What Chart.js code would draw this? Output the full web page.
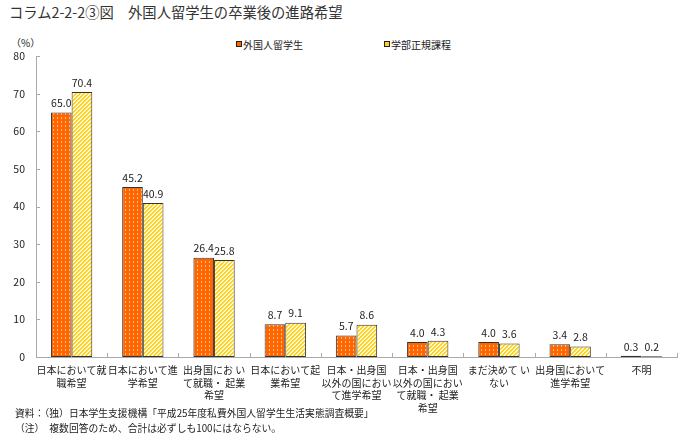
<!DOCTYPE html>
<html lang="ja">
<head>
<meta charset="UTF-8">
<meta name="viewport" content="width=device-width, initial-scale=1.0">
<title>外国人留学生の卒業後の進路希望</title>
<script src="https://cdn.jsdelivr.net/npm/chart.js"></script>
<style>
    body {
        margin: 0;
        background: #fff;
        font-family: "Noto Sans CJK JP", sans-serif;
        color: #222;
    }
    #wrap {
        position: relative;
        width: 689px;
        height: 447px;
        overflow: hidden;
    }
    #title {
        position: absolute;
        left: 9px;
        top: 2px;
        font-size: 14.3px;
        line-height: 20px;
        color: #333;
        white-space: nowrap;
    }
    #unit {
        position: absolute;
        left: 11px;
        top: 36px;
        font-size: 10px;
        line-height: 14px;
    }
    .leg {
        position: absolute;
        top: 38px;
        font-size: 10px;
        line-height: 14px;
        white-space: nowrap;
    }
    .leg i {
        display: inline-block;
        width: 4px;
        height: 4px;
        border: 1px solid #222;
        margin-right: 1px;
        vertical-align: 2px;
    }
    #chartBox {
        position: absolute;
        left: 0;
        top: 28px;
        width: 689px;
        height: 392px;
    }
    #notes {
        position: absolute;
        left: 15px;
        top: 406px;
        font-size: 9.8px;
        line-height: 15px;
        white-space: nowrap;
    }
</style>
</head>
<body>

<div id="wrap">
    <div id="title">コラム2-2-2③図　外国人留学生の卒業後の進路希望</div>
    <div id="unit">（%）</div>
    <div class="leg" style="left:236px"><i style="background:#ff6600"></i>外国人留学生</div>
    <div class="leg" style="left:384px"><i style="background:#ffd21f"></i>学部正規課程</div>
    <div id="chartBox"><canvas id="careerChart"></canvas></div>
    <div id="notes">
        資料：（独）日本学生支援機構「平成25年度私費外国人留学生生活実態調査概要」<br>
        （注）　複数回答のため、合計は必ずしも100にはならない。
    </div>
</div>

<script>
    // categories (wrapped like the original)
    const categories = [
        ['日本において就', '職希望'],
        ['日本において進', '学希望'],
        ['出身国にお い', 'て就職・ 起業', '希望'],
        ['日本において起', '業希望'],
        ['日本・出身国', '以外の国におい', 'て進学希望'],
        ['日本・出身国', '以外の国におい', 'て就職・ 起業', '希望'],
        ['まだ決めて い', 'ない'],
        ['出身国において', '進学希望'],
        ['不明']
    ];
    const seriesNames = ['外国人留学生', '学部正規課程'];
    const foreignStudents = [65.0, 45.2, 26.4, 8.7, 5.7, 4.0, 4.0, 3.4, 0.3];
    const undergraduates = [70.4, 40.9, 25.8, 9.1, 8.6, 4.3, 3.6, 2.8, 0.2];
    const yMin = 0, yMax = 80, yStep = 10;

    // fill patterns: orange with dots, yellow with diagonal stripes
    function dotPattern() {
        const c = document.createElement('canvas');
        c.width = 4; c.height = 4;
        const g = c.getContext('2d');
        g.fillStyle = '#ff6600';
        g.fillRect(0, 0, 4, 4);
        g.fillStyle = '#ffb98a';
        g.fillRect(1, 1, 1, 2);
        return g.createPattern(c, 'repeat');
    }
    function stripePattern() {
        const c = document.createElement('canvas');
        c.width = 4; c.height = 4;
        const g = c.getContext('2d');
        g.fillStyle = '#ffd21f';
        g.fillRect(0, 0, 4, 4);
        for (let x = 0; x < 4; x++) {
            for (let y = 0; y < 4; y++) {
                if ((x + y) % 4 === 3) { g.fillStyle = '#ffffff'; g.fillRect(x, y, 1, 1); }
                if ((x + y) % 4 === 2) { g.fillStyle = '#fff0a0'; g.fillRect(x, y, 1, 1); }
            }
        }
        return g.createPattern(c, 'repeat');
    }

    // small tick marks pointing into the plot
    const inwardTicks = {
        id: 'inwardTicks',
        afterDraw(chart) {
            const { ctx, chartArea: a, scales: { x, y } } = chart;
            ctx.save();
            ctx.strokeStyle = '#aaaaaa';
            ctx.lineWidth = 1;
            ctx.beginPath();
            y.ticks.forEach((t, i) => {
                const py = Math.round(y.getPixelForTick(i)) + 0.5;
                ctx.moveTo(a.left, py);
                ctx.lineTo(a.left + 4, py);
            });
            const half = (x.getPixelForValue(1) - x.getPixelForValue(0)) / 2;
            for (let i = 0; i < categories.length; i++) {
                const px = Math.round(x.getPixelForValue(i) + half) + 0.5;
                ctx.moveTo(px, a.bottom);
                ctx.lineTo(px, a.bottom - 4);
            }
            ctx.stroke();
            ctx.restore();
        }
    };

    // value labels above each bar
    const barValues = {
        id: 'barValues',
        afterDatasetsDraw(chart) {
            const ctx = chart.ctx;
            ctx.save();
            ctx.font = '10.5px "Noto Sans CJK JP", sans-serif';
            ctx.fillStyle = '#222';
            ctx.textAlign = 'center';
            ctx.textBaseline = 'bottom';
            chart.data.datasets.forEach((ds, di) => {
                chart.getDatasetMeta(di).data.forEach((bar, i) => {
                    ctx.fillText(ds.data[i].toFixed(1), bar.x, bar.y - 4);
                });
            });
            ctx.restore();
        }
    };

    const ctx = document.getElementById('careerChart').getContext('2d');
    new Chart(ctx, {
        type: 'bar',
        data: {
            labels: categories,
            datasets: [
                {
                    label: seriesNames[0],
                    data: foreignStudents,
                    backgroundColor: dotPattern(),
                    borderColor: '#333',
                    borderWidth: 1,
                    borderSkipped: false
                },
                {
                    label: seriesNames[1],
                    data: undergraduates,
                    backgroundColor: stripePattern(),
                    borderColor: '#333',
                    borderWidth: 1,
                    borderSkipped: false
                }
            ]
        },
        options: {
            responsive: true,
            maintainAspectRatio: false,
            animation: false,
            layout: { padding: { top: 28, right: 12, left: 0, bottom: 0 } },
            datasets: { bar: { categoryPercentage: 0.58, barPercentage: 1.0 } },
            scales: {
                x: {
                    grid: { display: false, drawTicks: false },
                    border: { color: '#aaaaaa' },
                    ticks: {
                        color: '#222',
                        font: { family: '"Noto Sans CJK JP", sans-serif', size: 10, lineHeight: 1.25 },
                        padding: 7,
                        maxRotation: 0,
                        autoSkip: false
                    },
                    afterFit(s) { s.height = 63; }
                },
                y: {
                    min: yMin,
                    max: yMax,
                    grid: { display: false, drawTicks: false },
                    border: { color: '#aaaaaa' },
                    ticks: {
                        stepSize: yStep,
                        color: '#222',
                        font: { family: '"Noto Sans CJK JP", sans-serif', size: 10.5 },
                        padding: 11
                    },
                    afterFit(s) { s.width = 36; }
                }
            },
            plugins: {
                legend: { display: false },
                tooltip: { enabled: false }
            }
        },
        plugins: [inwardTicks, barValues]
    });
</script>

</body>
</html>
